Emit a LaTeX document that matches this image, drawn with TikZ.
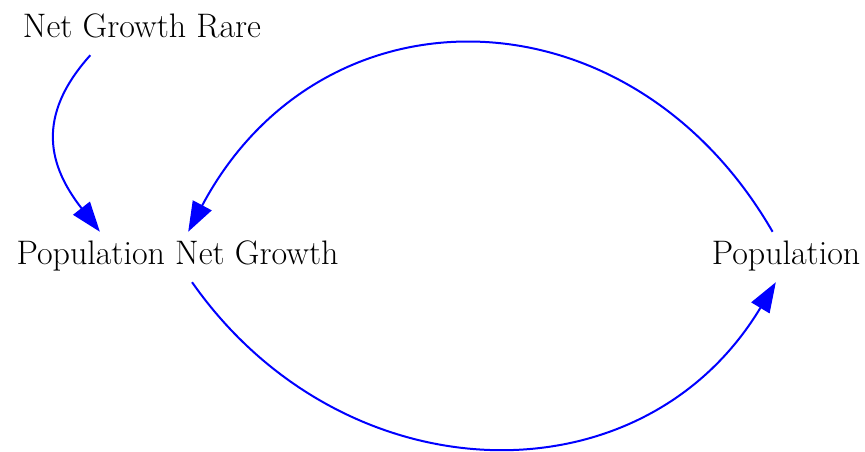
\documentclass[tikz,border=0pt]{standalone}
\usepackage{tikz}
\usetikzlibrary{arrows.meta,positioning}
\tikzset{
  varname/.style={font=\fontsize{34}{40}\selectfont, text height=23pt,
    text depth=7pt, inner xsep=4pt, inner ysep=10pt},
  causal/.style={draw=blue, line width=2pt,
    -{Triangle[length=30pt,width=21pt,fill=blue]}},
}

\begin{document}
\begin{tikzpicture}[x=1pt, y=1pt]
\useasboundingbox (0,0) rectangle (865,452);

\node[varname] (rate) at (142, 422)   {Net Growth Rare};
\node[varname] (png)  at (177.5, 195) {Population Net Growth};
\node[varname] (pop)  at (786, 195)   {Population};

%% Links
\draw[causal] (rate.206) to[out=228, in=128, looseness=1.2]  (png.162);
\draw[causal] (pop.118)  to[out=120, in=62,  looseness=1.25] (png.67);
\draw[causal] (png.300)  to[out=305, in=239, looseness=1.15] (pop.248);
\end{tikzpicture}
\end{document}
